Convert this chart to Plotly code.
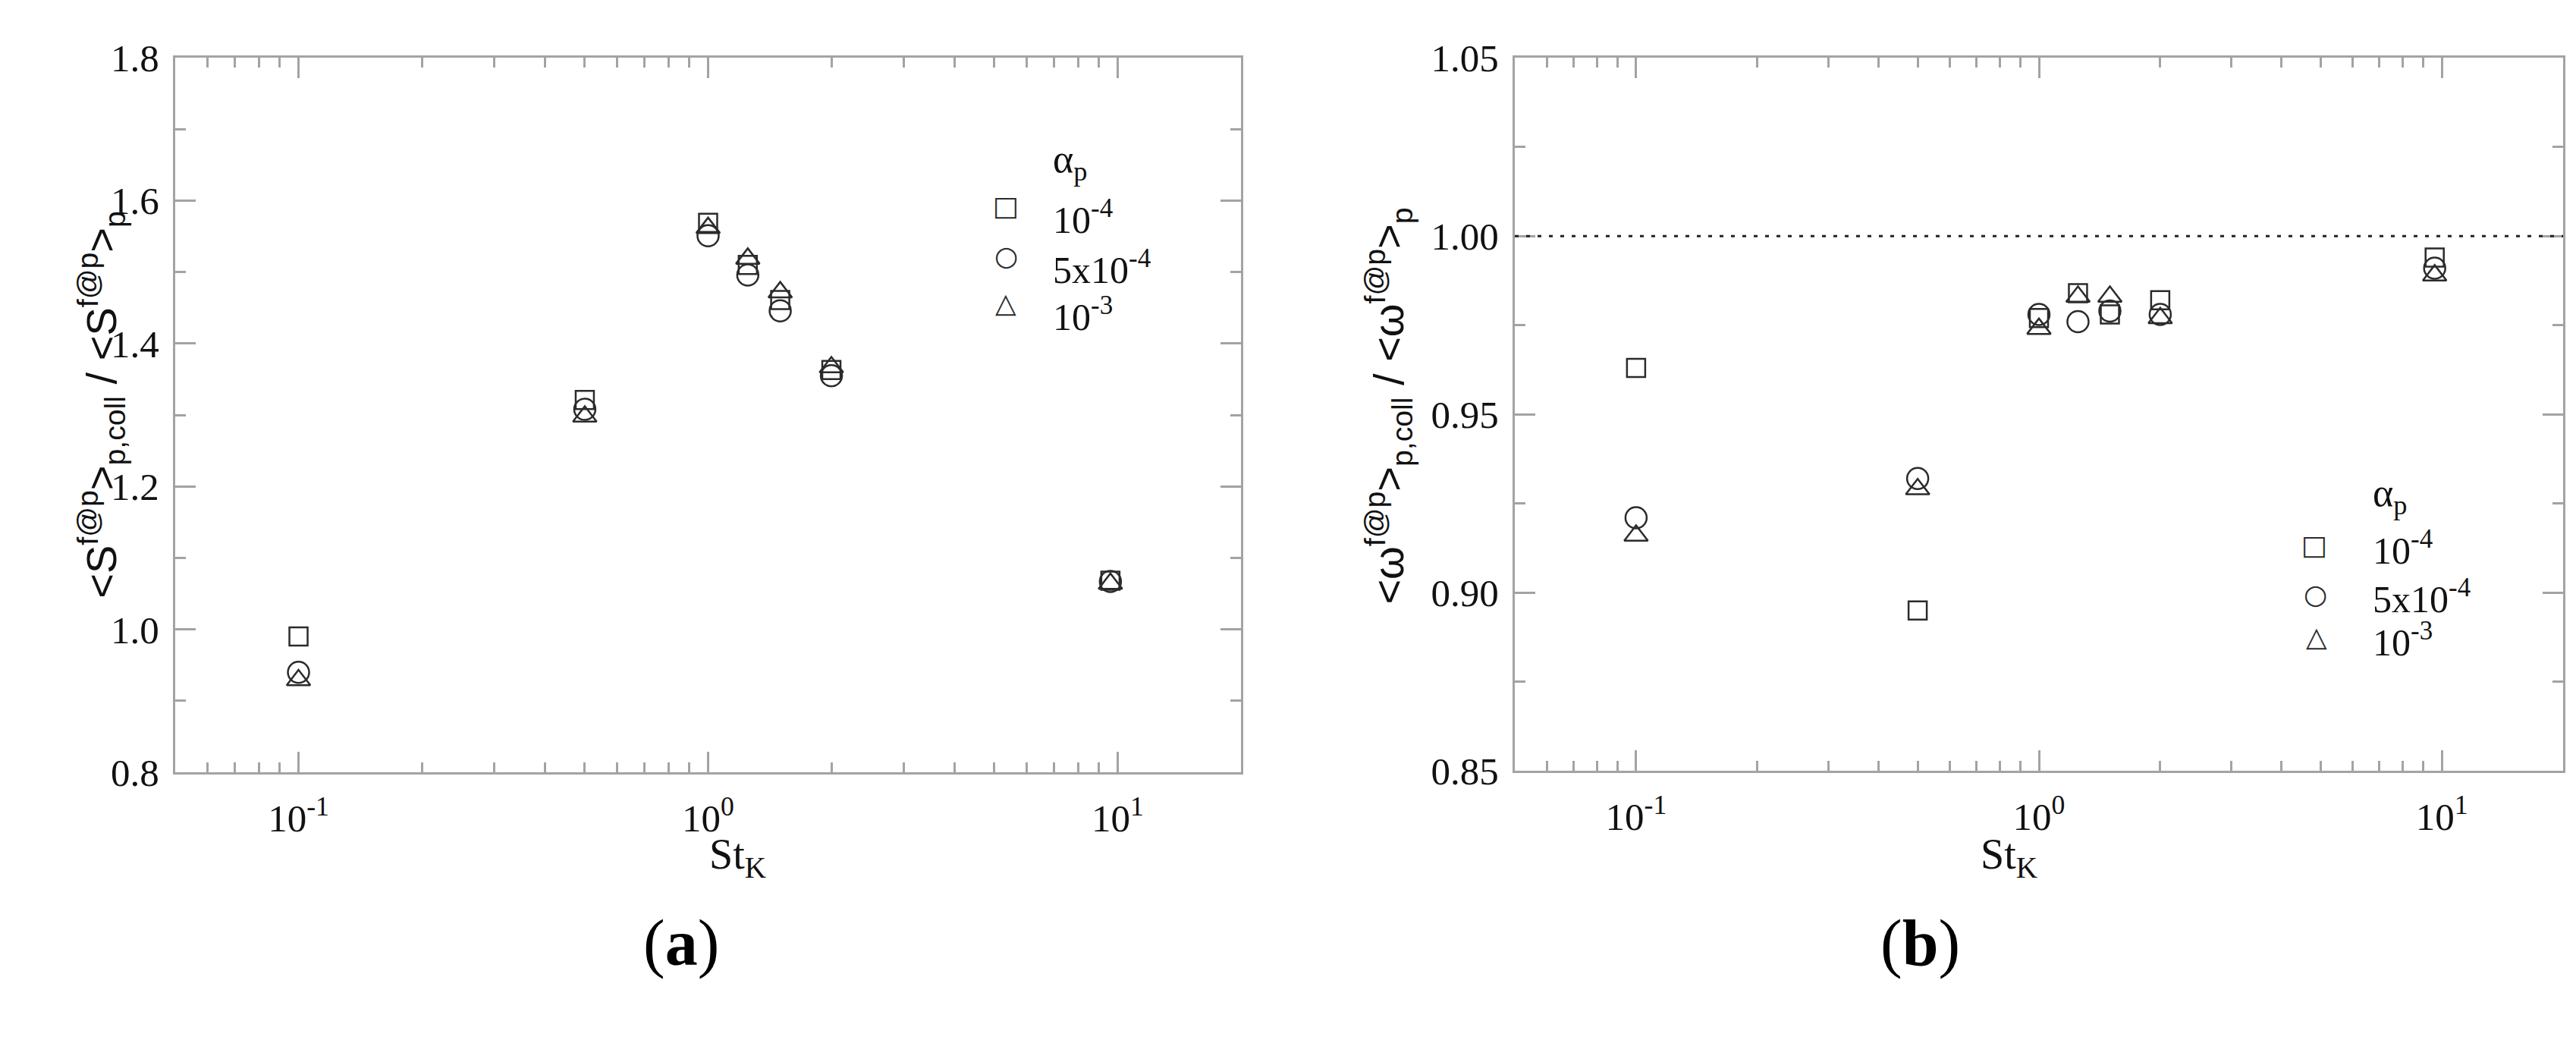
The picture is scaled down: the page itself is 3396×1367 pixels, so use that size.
import plotly.graph_objects as go
from plotly.subplots import make_subplots

# Stokes numbers
ST_K = [0.1, 0.5, 1.0, 1.25, 1.5, 2.0, 9.6]

# (a) strain ratio, one list per alpha_p
S_A1E4 = [0.990, 1.321, 1.569, 1.510, 1.461, 1.363, 1.068]
S_A5E4 = [0.940, 1.308, 1.551, 1.496, 1.446, 1.355, 1.067]
S_A1E3 = [0.929, 1.298, 1.562, 1.519, 1.472, 1.367, 1.064]

# (b) vorticity ratio
W_A1E4 = [0.963, 0.895, 0.977, 0.984, 0.978, 0.982, 0.994]
W_A5E4 = [0.921, 0.932, 0.978, 0.976, 0.979, 0.978, 0.991]
W_A1E3 = [0.916, 0.929, 0.974, 0.983, 0.983, 0.977, 0.989]

SERIES_NAMES = ["10<sup>-4</sup>", "5x10<sup>-4</sup>", "10<sup>-3</sup>"]
SYMBOLS = ["square-open", "circle-open", "triangle-up-open"]
SYMBOL_SIZES = [24, 28, 27]
LEGEND_GLYPHS = ["\u25a1", "\u25cb", "\u25b3"]

X_TICKVALS = [0.1, 1, 10]
X_TICKTEXT = ["10<sup>-1</sup>", "10<sup>0</sup>", "10<sup>1</sup>"]
REF_LINE = 1.0

W, H = 3396, 1367
INK = "#2b2b2b"
AXIS_GREY = "#a3a3a3"
SERIF = "Liberation Serif"
SANS = "Liberation Sans"


def px_x(p):
    return p / W


def px_y(p):
    return 1 - p / H


fig = make_subplots(rows=1, cols=2)

for ys, col in [((S_A1E4, S_A5E4, S_A1E3), 1), ((W_A1E4, W_A5E4, W_A1E3), 2)]:
    for vals, name, sym, sz in zip(ys, SERIES_NAMES, SYMBOLS, SYMBOL_SIZES):
        fig.add_trace(
            go.Scatter(
                x=ST_K, y=vals, mode="markers", name=name,
                marker=dict(symbol=sym, size=sz, color=INK, line=dict(width=2.5, color=INK)),
            ),
            row=1, col=col,
        )

minor_x = [m * 10 ** e for e in (-2, -1, 0) for m in range(2, 10) if 0.05 <= m * 10 ** e < 20]

axis_common = dict(
    showline=True, linecolor=AXIS_GREY, linewidth=3, mirror="allticks",
    ticks="inside", ticklen=27, tickwidth=2.5, tickcolor=AXIS_GREY,
    showgrid=False, zeroline=False,
    tickfont=dict(family=SERIF, size=51, color="#111111"),
)

xaxis_common = dict(
    axis_common, type="log", range=[-1.30103, 1.30103],
    tickmode="array", tickvals=X_TICKVALS, ticktext=X_TICKTEXT,
    ticklabelstandoff=14,
    minor=dict(tickmode="array", tickvals=minor_x, ticks="inside", ticklen=13,
               tickwidth=2.5, tickcolor=AXIS_GREY, showgrid=False),
)

yminor = dict(ticks="inside", ticklen=14, tickwidth=2.5, tickcolor=AXIS_GREY, showgrid=False)

fig.update_layout(
    width=W, height=H,
    margin=dict(l=0, r=0, t=0, b=0),
    paper_bgcolor="white", plot_bgcolor="white",
    showlegend=False,
    xaxis=dict(xaxis_common, domain=[px_x(223), px_x(1628)]),
    xaxis2=dict(xaxis_common, domain=[px_x(1989), px_x(3371)]),
    yaxis=dict(axis_common, domain=[px_y(1025), px_y(43)], range=[0.8, 1.8],
               tickmode="linear", tick0=0.8, dtick=0.2, tickformat=".1f",
               ticklabelstandoff=8, minor=dict(yminor, dtick=0.1)),
    yaxis2=dict(axis_common, domain=[px_y(1023), px_y(43)], range=[0.85, 1.05],
                tickmode="linear", tick0=0.85, dtick=0.05, tickformat=".2f",
                ticklabelstandoff=8, minor=dict(yminor, dtick=0.025)),
)

fig.add_shape(type="line", xref="x2 domain", yref="y2", x0=0, x1=1, y0=REF_LINE, y1=REF_LINE,
              line=dict(color="#222222", width=3, dash="5px,10px"))

annotations = []

# axis titles
for cx in (925, 2680):
    annotations.append(dict(
        text="St<sub>K</sub>", x=px_x(cx), y=px_y(1180), xref="paper", yref="paper",
        showarrow=False, font=dict(family=SERIF, size=56, color="#111111"),
    ))
annotations.append(dict(
    text="&lt;S<sup>f@p</sup>&gt;<sub>p,coll</sub> / &lt;S<sup>f@p</sup>&gt;<sub>p</sub>",
    x=px_x(84), y=px_y(520), xref="paper", yref="paper", textangle=-90,
    showarrow=False, font=dict(family=SANS, size=56, color="#111111"),
))
annotations.append(dict(
    text="&lt;\u03c9<sup>f@p</sup>&gt;<sub>p,coll</sub> / &lt;\u03c9<sup>f@p</sup>&gt;<sub>p</sub>",
    x=px_x(1822), y=px_y(522), xref="paper", yref="paper", textangle=-90,
    showarrow=False, font=dict(family=SANS, size=56, color="#111111"),
))

# panel labels
for cx, lab in ((838, "a"), (2578, "b")):
    annotations.append(dict(
        text=f"(<b>{lab}</b>)", x=px_x(cx), y=px_y(1312), xref="paper", yref="paper",
        showarrow=False, font=dict(family=SERIF, size=86, color="#000000"),
    ))

# legends (drawn as text blocks)
for sym_x, txt_x, title_y, row_ys in ((1318, 1378, 150, (223, 292, 357)),
                                     (3062, 3118, 645, (713, 780, 839))):
    annotations.append(dict(
        text="\u03b1<sub>p</sub>", x=px_x(txt_x), y=px_y(title_y), xref="paper", yref="paper",
        xanchor="left", showarrow=False, font=dict(family=SERIF, size=52, color="#111111"),
    ))
    for glyph, label, ry in zip(LEGEND_GLYPHS, SERIES_NAMES, row_ys):
        annotations.append(dict(
            text=glyph, x=px_x(sym_x), y=px_y(ry), xref="paper", yref="paper",
            showarrow=False, font=dict(family="DejaVu Sans", size=36, color=INK),
        ))
        annotations.append(dict(
            text=label, x=px_x(txt_x), y=px_y(ry + 4), xref="paper", yref="paper",
            xanchor="left", showarrow=False, font=dict(family=SERIF, size=50, color="#111111"),
        ))

fig.update_layout(annotations=annotations)

fig.write_html("out.html")
